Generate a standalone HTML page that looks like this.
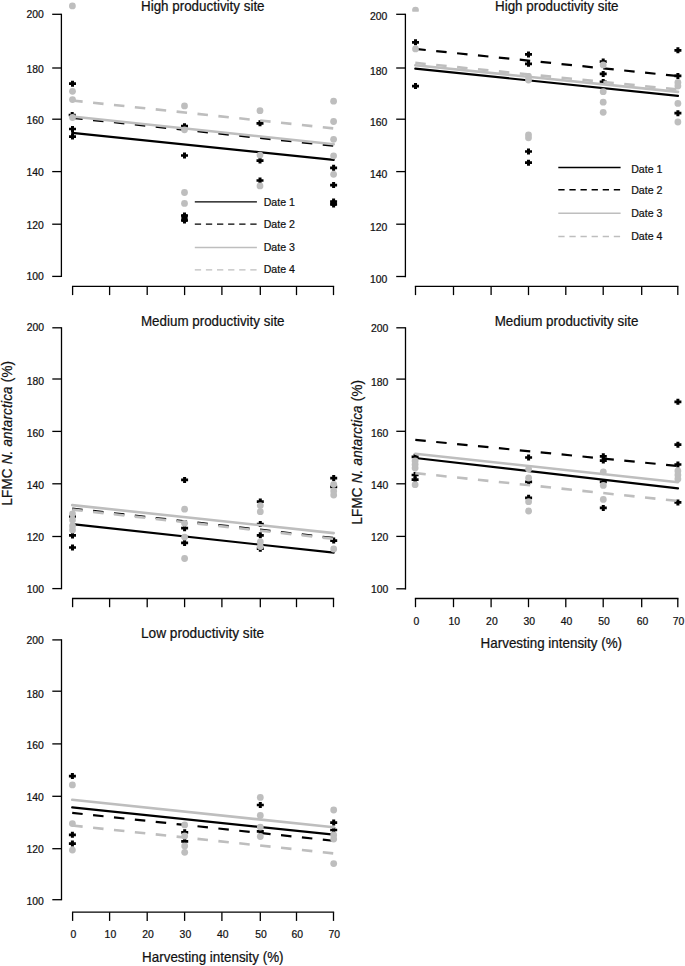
<!DOCTYPE html>
<html><head><meta charset="utf-8"><title>LFMC chart</title>
<style>
html,body{margin:0;padding:0;background:#fff;}
body{width:685px;height:966px;overflow:hidden;}
svg{display:block;}
svg text{font-family:"Liberation Sans", sans-serif;fill:#111;stroke:#111;stroke-width:0.22px;}
</style></head>
<body>
<svg width="685" height="966" viewBox="0 0 685 966">
<text transform="translate(141.0,10.9) scale(1,1.1)" font-size="13.4">High productivity site</text>
<line x1="61.4" y1="14.3" x2="61.4" y2="276.4" stroke="#000" stroke-width="1.3" stroke-linecap="square"/>
<line x1="52.2" y1="14.30" x2="61.4" y2="14.30" stroke="#000" stroke-width="1.3"/>
<text x="43.9" y="18.15" font-size="10.4" text-anchor="end" >200</text>
<line x1="52.2" y1="68.00" x2="61.4" y2="68.00" stroke="#000" stroke-width="1.3"/>
<text x="43.9" y="72.95" font-size="10.4" text-anchor="end" >180</text>
<line x1="52.2" y1="119.20" x2="61.4" y2="119.20" stroke="#000" stroke-width="1.3"/>
<text x="43.9" y="123.90" font-size="10.4" text-anchor="end" >160</text>
<line x1="52.2" y1="171.60" x2="61.4" y2="171.60" stroke="#000" stroke-width="1.3"/>
<text x="43.9" y="176.20" font-size="10.4" text-anchor="end" >140</text>
<line x1="52.2" y1="224.20" x2="61.4" y2="224.20" stroke="#000" stroke-width="1.3"/>
<text x="43.9" y="228.50" font-size="10.4" text-anchor="end" >120</text>
<line x1="52.2" y1="276.40" x2="61.4" y2="276.40" stroke="#000" stroke-width="1.3"/>
<text x="43.9" y="280.10" font-size="10.4" text-anchor="end" >100</text>
<line x1="72.6" y1="286.4" x2="333.5" y2="286.4" stroke="#000" stroke-width="1.3" stroke-linecap="square"/>
<line x1="72.60" y1="286.4" x2="72.60" y2="295.09999999999997" stroke="#000" stroke-width="1.3"/>
<line x1="109.60" y1="286.4" x2="109.60" y2="295.09999999999997" stroke="#000" stroke-width="1.3"/>
<line x1="147.20" y1="286.4" x2="147.20" y2="295.09999999999997" stroke="#000" stroke-width="1.3"/>
<line x1="184.60" y1="286.4" x2="184.60" y2="295.09999999999997" stroke="#000" stroke-width="1.3"/>
<line x1="221.90" y1="286.4" x2="221.90" y2="295.09999999999997" stroke="#000" stroke-width="1.3"/>
<line x1="260.30" y1="286.4" x2="260.30" y2="295.09999999999997" stroke="#000" stroke-width="1.3"/>
<line x1="296.50" y1="286.4" x2="296.50" y2="295.09999999999997" stroke="#000" stroke-width="1.3"/>
<line x1="333.50" y1="286.4" x2="333.50" y2="295.09999999999997" stroke="#000" stroke-width="1.3"/>
<path d="M69.00 82.35h7v2.7h-7zM71.00 80.70h3v6h-3z"/>
<path d="M68.70 113.65h7v2.7h-7zM70.70 112.00h3v6h-3z"/>
<path d="M69.00 127.65h7v2.7h-7zM71.00 126.00h3v6h-3z"/>
<path d="M69.00 135.25h7v2.7h-7zM71.00 133.60h3v6h-3z"/>
<path d="M181.00 124.85h7v2.7h-7zM183.00 123.20h3v6h-3z"/>
<path d="M181.00 154.15h7v2.7h-7zM183.00 152.50h3v6h-3z"/>
<path d="M181.00 214.15h7v2.7h-7zM183.00 212.50h3v6h-3z"/>
<path d="M181.00 219.15h7v2.7h-7zM183.00 217.50h3v6h-3z"/>
<path d="M256.50 121.95h7v2.7h-7zM258.50 120.30h3v6h-3z"/>
<path d="M256.50 159.25h7v2.7h-7zM258.50 157.60h3v6h-3z"/>
<path d="M256.50 179.15h7v2.7h-7zM258.50 177.50h3v6h-3z"/>
<path d="M330.10 166.45h7v2.7h-7zM332.10 164.80h3v6h-3z"/>
<path d="M330.10 183.75h7v2.7h-7zM332.10 182.10h3v6h-3z"/>
<path d="M330.10 200.15h7v2.7h-7zM332.10 198.50h3v6h-3z"/>
<path d="M330.10 203.15h7v2.7h-7zM332.10 201.50h3v6h-3z"/>
<line x1="72.2" y1="132.9" x2="333.7" y2="159.9" stroke="#000" stroke-width="2.2" stroke-linecap="round"/>
<line x1="72.2" y1="117.8" x2="333.7" y2="145.8" stroke="#000" stroke-width="2.2" stroke-dasharray="10.5 10.5"/>
<line x1="72.2" y1="116.5" x2="333.7" y2="144.2" stroke="#bebebe" stroke-width="2.6" stroke-linecap="round"/>
<line x1="72.2" y1="100.5" x2="333.7" y2="128.4" stroke="#bebebe" stroke-width="2.6" stroke-dasharray="10.5 10.5"/>
<ellipse cx="184.5" cy="218" rx="3.2" ry="4.6"/><ellipse cx="333.6" cy="203.2" rx="3.3" ry="2.9"/>
<circle cx="72.4" cy="5.9" r="3.4" fill="#bebebe"/>
<circle cx="72.5" cy="91.3" r="3.4" fill="#bebebe"/>
<circle cx="72.5" cy="99.6" r="3.4" fill="#bebebe"/>
<circle cx="72.5" cy="117.5" r="3.4" fill="#bebebe"/>
<circle cx="184.5" cy="105.9" r="3.4" fill="#bebebe"/>
<circle cx="184.5" cy="129.8" r="3.4" fill="#bebebe"/>
<circle cx="184.5" cy="192.5" r="3.4" fill="#bebebe"/>
<circle cx="184.5" cy="203.4" r="3.4" fill="#bebebe"/>
<circle cx="260" cy="110.7" r="3.4" fill="#bebebe"/>
<circle cx="260" cy="155.1" r="3.4" fill="#bebebe"/>
<circle cx="260" cy="185.9" r="3.4" fill="#bebebe"/>
<circle cx="333.6" cy="101.2" r="3.4" fill="#bebebe"/>
<circle cx="333.6" cy="121.5" r="3.4" fill="#bebebe"/>
<circle cx="333.6" cy="139.3" r="3.4" fill="#bebebe"/>
<circle cx="333.6" cy="155.8" r="3.4" fill="#bebebe"/>
<circle cx="333.6" cy="174.3" r="3.4" fill="#bebebe"/>
<line x1="194.8" y1="201.9" x2="256.9" y2="201.9" stroke="#000" stroke-width="1.4"/>
<text x="263.7" y="206.40" font-size="10.6" text-anchor="start" >Date 1</text>
<line x1="194.8" y1="224.1" x2="256.9" y2="224.1" stroke="#000" stroke-width="1.4" stroke-dasharray="6.3 4.8"/>
<text x="263.7" y="227.95" font-size="10.6" text-anchor="start" >Date 2</text>
<line x1="194.8" y1="247.5" x2="256.9" y2="247.5" stroke="#bebebe" stroke-width="1.4"/>
<text x="263.7" y="250.95" font-size="10.6" text-anchor="start" >Date 3</text>
<line x1="194.8" y1="269.9" x2="256.9" y2="269.9" stroke="#bebebe" stroke-width="1.4" stroke-dasharray="6.3 4.8"/>
<text x="263.7" y="273.40" font-size="10.6" text-anchor="start" >Date 4</text>
<text transform="translate(495.0,11.1) scale(1,1.1)" font-size="13.4">High productivity site</text>
<line x1="405.4" y1="14.3" x2="405.4" y2="276.5" stroke="#000" stroke-width="1.3" stroke-linecap="square"/>
<line x1="396.2" y1="14.30" x2="405.4" y2="14.30" stroke="#000" stroke-width="1.3"/>
<text x="387.4" y="20.10" font-size="10.4" text-anchor="end" >200</text>
<line x1="396.2" y1="68.00" x2="405.4" y2="68.00" stroke="#000" stroke-width="1.3"/>
<text x="387.4" y="74.80" font-size="10.4" text-anchor="end" >180</text>
<line x1="396.2" y1="119.20" x2="405.4" y2="119.20" stroke="#000" stroke-width="1.3"/>
<text x="387.4" y="126.00" font-size="10.4" text-anchor="end" >160</text>
<line x1="396.2" y1="171.60" x2="405.4" y2="171.60" stroke="#000" stroke-width="1.3"/>
<text x="387.4" y="178.30" font-size="10.4" text-anchor="end" >140</text>
<line x1="396.2" y1="224.20" x2="405.4" y2="224.20" stroke="#000" stroke-width="1.3"/>
<text x="387.4" y="230.50" font-size="10.4" text-anchor="end" >120</text>
<line x1="396.2" y1="276.50" x2="405.4" y2="276.50" stroke="#000" stroke-width="1.3"/>
<text x="387.4" y="282.60" font-size="10.4" text-anchor="end" >100</text>
<line x1="415.5" y1="286.4" x2="677.8" y2="286.4" stroke="#000" stroke-width="1.3" stroke-linecap="square"/>
<line x1="415.50" y1="286.4" x2="415.50" y2="295.09999999999997" stroke="#000" stroke-width="1.3"/>
<line x1="453.50" y1="286.4" x2="453.50" y2="295.09999999999997" stroke="#000" stroke-width="1.3"/>
<line x1="491.10" y1="286.4" x2="491.10" y2="295.09999999999997" stroke="#000" stroke-width="1.3"/>
<line x1="528.50" y1="286.4" x2="528.50" y2="295.09999999999997" stroke="#000" stroke-width="1.3"/>
<line x1="565.80" y1="286.4" x2="565.80" y2="295.09999999999997" stroke="#000" stroke-width="1.3"/>
<line x1="603.20" y1="286.4" x2="603.20" y2="295.09999999999997" stroke="#000" stroke-width="1.3"/>
<line x1="641.70" y1="286.4" x2="641.70" y2="295.09999999999997" stroke="#000" stroke-width="1.3"/>
<line x1="677.80" y1="286.4" x2="677.80" y2="295.09999999999997" stroke="#000" stroke-width="1.3"/>
<path d="M412.00 40.95h7v2.7h-7zM414.00 39.30h3v6h-3z"/>
<path d="M412.00 84.75h7v2.7h-7zM414.00 83.10h3v6h-3z"/>
<path d="M525.00 53.05h7v2.7h-7zM527.00 51.40h3v6h-3z"/>
<path d="M525.00 62.45h7v2.7h-7zM527.00 60.80h3v6h-3z"/>
<path d="M525.00 150.15h7v2.7h-7zM527.00 148.50h3v6h-3z"/>
<path d="M525.00 161.35h7v2.7h-7zM527.00 159.70h3v6h-3z"/>
<path d="M599.70 60.25h7v2.7h-7zM601.70 58.60h3v6h-3z"/>
<path d="M599.70 72.55h7v2.7h-7zM601.70 70.90h3v6h-3z"/>
<path d="M599.70 80.55h7v2.7h-7zM601.70 78.90h3v6h-3z"/>
<path d="M674.40 48.95h7v2.7h-7zM676.40 47.30h3v6h-3z"/>
<path d="M674.40 74.55h7v2.7h-7zM676.40 72.90h3v6h-3z"/>
<path d="M674.40 111.85h7v2.7h-7zM676.40 110.20h3v6h-3z"/>
<line x1="415.3" y1="68.7" x2="678.0" y2="95.8" stroke="#000" stroke-width="2.2" stroke-linecap="round"/>
<line x1="415.3" y1="48.9" x2="678.0" y2="76.1" stroke="#000" stroke-width="2.2" stroke-dasharray="10.5 10.5"/>
<line x1="415.3" y1="65.3" x2="678.0" y2="91.9" stroke="#bebebe" stroke-width="2.6" stroke-linecap="round"/>
<line x1="415.3" y1="62.9" x2="678.0" y2="89.5" stroke="#bebebe" stroke-width="2.6" stroke-dasharray="10.5 10.5"/>
<clipPath id="cb"><rect x="400" y="0" width="40" height="11.8"/></clipPath>
<circle cx="415.5" cy="10.1" r="3.4" fill="#bebebe" clip-path="url(#cb)"/>
<circle cx="415.5" cy="48.9" r="3.4" fill="#bebebe"/>
<circle cx="528.5" cy="76.5" r="3.4" fill="#bebebe"/>
<circle cx="528.5" cy="80" r="3.4" fill="#bebebe"/>
<circle cx="528.5" cy="134.8" r="3.4" fill="#bebebe"/>
<circle cx="528.5" cy="137.8" r="3.4" fill="#bebebe"/>
<circle cx="603.2" cy="64.9" r="3.4" fill="#bebebe"/>
<circle cx="603.2" cy="91.7" r="3.4" fill="#bebebe"/>
<circle cx="603.2" cy="102.2" r="3.4" fill="#bebebe"/>
<circle cx="603.2" cy="112.3" r="3.4" fill="#bebebe"/>
<circle cx="677.9" cy="82.5" r="3.4" fill="#bebebe"/>
<circle cx="677.9" cy="86" r="3.4" fill="#bebebe"/>
<circle cx="677.9" cy="103.4" r="3.4" fill="#bebebe"/>
<circle cx="677.9" cy="122" r="3.4" fill="#bebebe"/>
<line x1="558.3" y1="167.5" x2="620.6" y2="167.5" stroke="#000" stroke-width="1.4"/>
<text x="631.2" y="172.80" font-size="10.6" text-anchor="start" >Date 1</text>
<line x1="558.3" y1="189.7" x2="620.6" y2="189.7" stroke="#000" stroke-width="1.4" stroke-dasharray="6.3 4.8"/>
<text x="631.2" y="194.20" font-size="10.6" text-anchor="start" >Date 2</text>
<line x1="558.3" y1="213.2" x2="620.6" y2="213.2" stroke="#bebebe" stroke-width="1.4"/>
<text x="631.2" y="216.90" font-size="10.6" text-anchor="start" >Date 3</text>
<line x1="558.3" y1="236.5" x2="620.6" y2="236.5" stroke="#bebebe" stroke-width="1.4" stroke-dasharray="6.3 4.8"/>
<text x="631.2" y="239.75" font-size="10.6" text-anchor="start" >Date 4</text>
<text transform="translate(140.9,325.6) scale(1,1.1)" font-size="13.4">Medium productivity site</text>
<line x1="61.5" y1="327.8" x2="61.5" y2="588.6" stroke="#000" stroke-width="1.3" stroke-linecap="square"/>
<line x1="52.3" y1="327.80" x2="61.5" y2="327.80" stroke="#000" stroke-width="1.3"/>
<text x="44.0" y="331.00" font-size="10.4" text-anchor="end" >200</text>
<line x1="52.3" y1="379.00" x2="61.5" y2="379.00" stroke="#000" stroke-width="1.3"/>
<text x="44.0" y="385.30" font-size="10.4" text-anchor="end" >180</text>
<line x1="52.3" y1="431.40" x2="61.5" y2="431.40" stroke="#000" stroke-width="1.3"/>
<text x="44.0" y="436.80" font-size="10.4" text-anchor="end" >160</text>
<line x1="52.3" y1="483.80" x2="61.5" y2="483.80" stroke="#000" stroke-width="1.3"/>
<text x="44.0" y="488.70" font-size="10.4" text-anchor="end" >140</text>
<line x1="52.3" y1="536.50" x2="61.5" y2="536.50" stroke="#000" stroke-width="1.3"/>
<text x="44.0" y="541.20" font-size="10.4" text-anchor="end" >120</text>
<line x1="52.3" y1="588.60" x2="61.5" y2="588.60" stroke="#000" stroke-width="1.3"/>
<text x="44.0" y="593.00" font-size="10.4" text-anchor="end" >100</text>
<line x1="72.6" y1="598.5" x2="333.5" y2="598.5" stroke="#000" stroke-width="1.3" stroke-linecap="square"/>
<line x1="72.60" y1="598.5" x2="72.60" y2="607.2" stroke="#000" stroke-width="1.3"/>
<line x1="109.60" y1="598.5" x2="109.60" y2="607.2" stroke="#000" stroke-width="1.3"/>
<line x1="147.20" y1="598.5" x2="147.20" y2="607.2" stroke="#000" stroke-width="1.3"/>
<line x1="184.60" y1="598.5" x2="184.60" y2="607.2" stroke="#000" stroke-width="1.3"/>
<line x1="221.90" y1="598.5" x2="221.90" y2="607.2" stroke="#000" stroke-width="1.3"/>
<line x1="260.30" y1="598.5" x2="260.30" y2="607.2" stroke="#000" stroke-width="1.3"/>
<line x1="296.50" y1="598.5" x2="296.50" y2="607.2" stroke="#000" stroke-width="1.3"/>
<line x1="333.50" y1="598.5" x2="333.50" y2="607.2" stroke="#000" stroke-width="1.3"/>
<path d="M69.00 515.05h7v2.7h-7zM71.00 513.40h3v6h-3z"/>
<path d="M69.00 534.05h7v2.7h-7zM71.00 532.40h3v6h-3z"/>
<path d="M69.00 546.15h7v2.7h-7zM71.00 544.50h3v6h-3z"/>
<path d="M181.10 478.55h7v2.7h-7zM183.10 476.90h3v6h-3z"/>
<path d="M181.10 526.85h7v2.7h-7zM183.10 525.20h3v6h-3z"/>
<path d="M181.10 541.55h7v2.7h-7zM183.10 539.90h3v6h-3z"/>
<path d="M256.80 500.25h7v2.7h-7zM258.80 498.60h3v6h-3z"/>
<path d="M256.80 522.65h7v2.7h-7zM258.80 521.00h3v6h-3z"/>
<path d="M256.80 533.95h7v2.7h-7zM258.80 532.30h3v6h-3z"/>
<path d="M256.80 547.35h7v2.7h-7zM258.80 545.70h3v6h-3z"/>
<path d="M330.20 476.75h7v2.7h-7zM332.20 475.10h3v6h-3z"/>
<path d="M330.20 485.45h7v2.7h-7zM332.20 483.80h3v6h-3z"/>
<path d="M330.20 539.25h7v2.7h-7zM332.20 537.60h3v6h-3z"/>
<line x1="72.2" y1="524.2" x2="333.7" y2="552.7" stroke="#000" stroke-width="2.2" stroke-linecap="round"/>
<line x1="72.2" y1="508.6" x2="333.7" y2="538.0" stroke="#000" stroke-width="2.2" stroke-dasharray="10.5 10.5"/>
<line x1="72.2" y1="505.1" x2="333.7" y2="533.1" stroke="#bebebe" stroke-width="2.6" stroke-linecap="round"/>
<line x1="72.2" y1="509.6" x2="333.7" y2="538.9" stroke="#bebebe" stroke-width="2.6" stroke-dasharray="10.5 10.5"/>
<circle cx="72.5" cy="514" r="3.4" fill="#bebebe"/>
<circle cx="72.5" cy="520" r="3.4" fill="#bebebe"/>
<circle cx="72.5" cy="526" r="3.4" fill="#bebebe"/>
<circle cx="72.5" cy="530" r="3.4" fill="#bebebe"/>
<circle cx="184.6" cy="509.2" r="3.4" fill="#bebebe"/>
<circle cx="184.6" cy="523.3" r="3.4" fill="#bebebe"/>
<circle cx="184.6" cy="537.1" r="3.4" fill="#bebebe"/>
<circle cx="184.6" cy="558.5" r="3.4" fill="#bebebe"/>
<circle cx="260.3" cy="505.6" r="3.4" fill="#bebebe"/>
<circle cx="260.3" cy="511.7" r="3.4" fill="#bebebe"/>
<circle cx="260.3" cy="542" r="3.4" fill="#bebebe"/>
<circle cx="260.3" cy="546.5" r="3.4" fill="#bebebe"/>
<circle cx="333.7" cy="484.3" r="3.4" fill="#bebebe"/>
<circle cx="333.7" cy="491" r="3.4" fill="#bebebe"/>
<circle cx="333.7" cy="495" r="3.4" fill="#bebebe"/>
<circle cx="333.7" cy="549" r="3.4" fill="#bebebe"/>
<text transform="translate(11.8,505.6) rotate(-90) scale(1,1.1)" font-size="13.4" textLength="144.6" lengthAdjust="spacing">LFMC <tspan font-style="italic">N. antarctica</tspan> (%)</text>
<text transform="translate(494.7,326.0) scale(1,1.1)" font-size="13.4">Medium productivity site</text>
<line x1="405.5" y1="327.8" x2="405.5" y2="588.8" stroke="#000" stroke-width="1.3" stroke-linecap="square"/>
<line x1="396.3" y1="327.80" x2="405.5" y2="327.80" stroke="#000" stroke-width="1.3"/>
<text x="388.4" y="331.50" font-size="10.4" text-anchor="end" >200</text>
<line x1="396.3" y1="379.10" x2="405.5" y2="379.10" stroke="#000" stroke-width="1.3"/>
<text x="388.4" y="385.90" font-size="10.4" text-anchor="end" >180</text>
<line x1="396.3" y1="431.30" x2="405.5" y2="431.30" stroke="#000" stroke-width="1.3"/>
<text x="388.4" y="436.80" font-size="10.4" text-anchor="end" >160</text>
<line x1="396.3" y1="483.80" x2="405.5" y2="483.80" stroke="#000" stroke-width="1.3"/>
<text x="388.4" y="488.60" font-size="10.4" text-anchor="end" >140</text>
<line x1="396.3" y1="536.40" x2="405.5" y2="536.40" stroke="#000" stroke-width="1.3"/>
<text x="388.4" y="541.20" font-size="10.4" text-anchor="end" >120</text>
<line x1="396.3" y1="588.80" x2="405.5" y2="588.80" stroke="#000" stroke-width="1.3"/>
<text x="388.4" y="593.30" font-size="10.4" text-anchor="end" >100</text>
<line x1="415.5" y1="598.5" x2="677.8" y2="598.5" stroke="#000" stroke-width="1.3" stroke-linecap="square"/>
<line x1="415.50" y1="598.5" x2="415.50" y2="607.2" stroke="#000" stroke-width="1.3"/>
<text x="416.30" y="625.00" font-size="10.4" text-anchor="middle" >0</text>
<line x1="453.50" y1="598.5" x2="453.50" y2="607.2" stroke="#000" stroke-width="1.3"/>
<text x="454.30" y="625.00" font-size="10.4" text-anchor="middle" >10</text>
<line x1="491.10" y1="598.5" x2="491.10" y2="607.2" stroke="#000" stroke-width="1.3"/>
<text x="491.90" y="625.00" font-size="10.4" text-anchor="middle" >20</text>
<line x1="528.50" y1="598.5" x2="528.50" y2="607.2" stroke="#000" stroke-width="1.3"/>
<text x="529.30" y="625.00" font-size="10.4" text-anchor="middle" >30</text>
<line x1="565.80" y1="598.5" x2="565.80" y2="607.2" stroke="#000" stroke-width="1.3"/>
<text x="566.60" y="625.00" font-size="10.4" text-anchor="middle" >40</text>
<line x1="603.20" y1="598.5" x2="603.20" y2="607.2" stroke="#000" stroke-width="1.3"/>
<text x="604.00" y="625.00" font-size="10.4" text-anchor="middle" >50</text>
<line x1="641.70" y1="598.5" x2="641.70" y2="607.2" stroke="#000" stroke-width="1.3"/>
<text x="642.50" y="625.00" font-size="10.4" text-anchor="middle" >60</text>
<line x1="677.80" y1="598.5" x2="677.80" y2="607.2" stroke="#000" stroke-width="1.3"/>
<text x="678.60" y="625.00" font-size="10.4" text-anchor="middle" >70</text>
<path d="M411.60 455.45h7v2.7h-7zM413.60 453.80h3v6h-3z"/>
<path d="M411.60 473.65h7v2.7h-7zM413.60 472.00h3v6h-3z"/>
<path d="M411.60 478.35h7v2.7h-7zM413.60 476.70h3v6h-3z"/>
<path d="M525.10 456.15h7v2.7h-7zM527.10 454.50h3v6h-3z"/>
<path d="M525.10 480.55h7v2.7h-7zM527.10 478.90h3v6h-3z"/>
<path d="M525.10 496.45h7v2.7h-7zM527.10 494.80h3v6h-3z"/>
<path d="M599.80 454.95h7v2.7h-7zM601.80 453.30h3v6h-3z"/>
<path d="M599.80 459.25h7v2.7h-7zM601.80 457.60h3v6h-3z"/>
<path d="M599.80 480.55h7v2.7h-7zM601.80 478.90h3v6h-3z"/>
<path d="M599.80 506.55h7v2.7h-7zM601.80 504.90h3v6h-3z"/>
<path d="M674.40 400.45h7v2.7h-7zM676.40 398.80h3v6h-3z"/>
<path d="M674.40 443.35h7v2.7h-7zM676.40 441.70h3v6h-3z"/>
<path d="M674.40 463.15h7v2.7h-7zM676.40 461.50h3v6h-3z"/>
<path d="M674.40 501.05h7v2.7h-7zM676.40 499.40h3v6h-3z"/>
<line x1="415.3" y1="458.0" x2="678.0" y2="488.3" stroke="#000" stroke-width="2.2" stroke-linecap="round"/>
<line x1="415.3" y1="439.9" x2="678.0" y2="466.0" stroke="#000" stroke-width="2.2" stroke-dasharray="10.5 10.5"/>
<line x1="415.3" y1="453.7" x2="678.0" y2="482.2" stroke="#bebebe" stroke-width="2.6" stroke-linecap="round"/>
<line x1="415.3" y1="473.1" x2="678.0" y2="501.0" stroke="#bebebe" stroke-width="2.6" stroke-dasharray="10.5 10.5"/>
<circle cx="415.1" cy="461" r="3.4" fill="#bebebe"/>
<circle cx="415.1" cy="464.5" r="3.4" fill="#bebebe"/>
<circle cx="415.1" cy="468" r="3.4" fill="#bebebe"/>
<circle cx="415.1" cy="484.7" r="3.4" fill="#bebebe"/>
<circle cx="528.6" cy="469.1" r="3.4" fill="#bebebe"/>
<circle cx="528.6" cy="478" r="3.4" fill="#bebebe"/>
<circle cx="528.6" cy="501.7" r="3.4" fill="#bebebe"/>
<circle cx="528.6" cy="511" r="3.4" fill="#bebebe"/>
<circle cx="603.3" cy="471.8" r="3.4" fill="#bebebe"/>
<circle cx="603.3" cy="485.4" r="3.4" fill="#bebebe"/>
<circle cx="603.3" cy="499.4" r="3.4" fill="#bebebe"/>
<circle cx="677.9" cy="471" r="3.4" fill="#bebebe"/>
<circle cx="677.9" cy="475" r="3.4" fill="#bebebe"/>
<circle cx="677.9" cy="479" r="3.4" fill="#bebebe"/>
<text transform="translate(362.4,524.6) rotate(-90) scale(1,1.1)" font-size="13.4" textLength="144.6" lengthAdjust="spacing">LFMC <tspan font-style="italic">N. antarctica</tspan> (%)</text>
<text transform="translate(480.6,647.6) scale(1,1.1)" font-size="13.4">Harvesting intensity (%)</text>
<text transform="translate(140.9,637.6) scale(1,1.08)" font-size="13.7">Low productivity site</text>
<line x1="61.5" y1="639.9" x2="61.5" y2="899.7" stroke="#000" stroke-width="1.3" stroke-linecap="square"/>
<line x1="52.3" y1="639.90" x2="61.5" y2="639.90" stroke="#000" stroke-width="1.3"/>
<text x="43.9" y="643.60" font-size="10.4" text-anchor="end" >200</text>
<line x1="52.3" y1="691.20" x2="61.5" y2="691.20" stroke="#000" stroke-width="1.3"/>
<text x="43.9" y="697.50" font-size="10.4" text-anchor="end" >180</text>
<line x1="52.3" y1="743.90" x2="61.5" y2="743.90" stroke="#000" stroke-width="1.3"/>
<text x="43.9" y="748.90" font-size="10.4" text-anchor="end" >160</text>
<line x1="52.3" y1="796.30" x2="61.5" y2="796.30" stroke="#000" stroke-width="1.3"/>
<text x="43.9" y="801.30" font-size="10.4" text-anchor="end" >140</text>
<line x1="52.3" y1="848.70" x2="61.5" y2="848.70" stroke="#000" stroke-width="1.3"/>
<text x="43.9" y="853.40" font-size="10.4" text-anchor="end" >120</text>
<line x1="52.3" y1="899.70" x2="61.5" y2="899.70" stroke="#000" stroke-width="1.3"/>
<text x="43.9" y="905.40" font-size="10.4" text-anchor="end" >100</text>
<line x1="72.6" y1="912.2" x2="333.5" y2="912.2" stroke="#000" stroke-width="1.3" stroke-linecap="square"/>
<line x1="72.60" y1="912.2" x2="72.60" y2="920.9000000000001" stroke="#000" stroke-width="1.3"/>
<text x="73.40" y="938.40" font-size="10.4" text-anchor="middle" >0</text>
<line x1="109.60" y1="912.2" x2="109.60" y2="920.9000000000001" stroke="#000" stroke-width="1.3"/>
<text x="110.40" y="938.40" font-size="10.4" text-anchor="middle" >10</text>
<line x1="147.20" y1="912.2" x2="147.20" y2="920.9000000000001" stroke="#000" stroke-width="1.3"/>
<text x="148.00" y="938.40" font-size="10.4" text-anchor="middle" >20</text>
<line x1="184.60" y1="912.2" x2="184.60" y2="920.9000000000001" stroke="#000" stroke-width="1.3"/>
<text x="185.40" y="938.40" font-size="10.4" text-anchor="middle" >30</text>
<line x1="221.90" y1="912.2" x2="221.90" y2="920.9000000000001" stroke="#000" stroke-width="1.3"/>
<text x="222.70" y="938.40" font-size="10.4" text-anchor="middle" >40</text>
<line x1="260.30" y1="912.2" x2="260.30" y2="920.9000000000001" stroke="#000" stroke-width="1.3"/>
<text x="261.10" y="938.40" font-size="10.4" text-anchor="middle" >50</text>
<line x1="296.50" y1="912.2" x2="296.50" y2="920.9000000000001" stroke="#000" stroke-width="1.3"/>
<text x="297.30" y="938.40" font-size="10.4" text-anchor="middle" >60</text>
<line x1="333.50" y1="912.2" x2="333.50" y2="920.9000000000001" stroke="#000" stroke-width="1.3"/>
<text x="334.30" y="938.40" font-size="10.4" text-anchor="middle" >70</text>
<path d="M68.90 774.75h7v2.7h-7zM70.90 773.10h3v6h-3z"/>
<path d="M68.90 833.45h7v2.7h-7zM70.90 831.80h3v6h-3z"/>
<path d="M68.90 842.25h7v2.7h-7zM70.90 840.60h3v6h-3z"/>
<path d="M181.20 830.95h7v2.7h-7zM183.20 829.30h3v6h-3z"/>
<path d="M181.20 840.05h7v2.7h-7zM183.20 838.40h3v6h-3z"/>
<path d="M256.80 803.65h7v2.7h-7zM258.80 802.00h3v6h-3z"/>
<path d="M256.80 830.05h7v2.7h-7zM258.80 828.40h3v6h-3z"/>
<path d="M330.20 821.25h7v2.7h-7zM332.20 819.60h3v6h-3z"/>
<path d="M330.20 828.65h7v2.7h-7zM332.20 827.00h3v6h-3z"/>
<line x1="72.2" y1="807.3" x2="333.7" y2="834.7" stroke="#000" stroke-width="2.2" stroke-linecap="round"/>
<line x1="72.2" y1="812.9" x2="333.7" y2="840.8" stroke="#000" stroke-width="2.2" stroke-dasharray="10.5 10.5"/>
<line x1="72.2" y1="799.8" x2="333.7" y2="827.3" stroke="#bebebe" stroke-width="2.6" stroke-linecap="round"/>
<line x1="72.2" y1="825.5" x2="333.7" y2="853.4" stroke="#bebebe" stroke-width="2.6" stroke-dasharray="10.5 10.5"/>
<circle cx="72.4" cy="784.9" r="3.4" fill="#bebebe"/>
<circle cx="72.4" cy="823.6" r="3.4" fill="#bebebe"/>
<circle cx="72.4" cy="850.1" r="3.4" fill="#bebebe"/>
<circle cx="184.7" cy="824.9" r="3.4" fill="#bebebe"/>
<circle cx="184.7" cy="836" r="3.4" fill="#bebebe"/>
<circle cx="184.7" cy="846" r="3.4" fill="#bebebe"/>
<circle cx="184.7" cy="852.3" r="3.4" fill="#bebebe"/>
<circle cx="260.3" cy="797.4" r="3.4" fill="#bebebe"/>
<circle cx="260.3" cy="815.5" r="3.4" fill="#bebebe"/>
<circle cx="260.3" cy="827.1" r="3.4" fill="#bebebe"/>
<circle cx="260.3" cy="836.5" r="3.4" fill="#bebebe"/>
<circle cx="333.7" cy="810" r="3.4" fill="#bebebe"/>
<circle cx="333.7" cy="835" r="3.4" fill="#bebebe"/>
<circle cx="333.7" cy="839" r="3.4" fill="#bebebe"/>
<circle cx="333.7" cy="863.6" r="3.4" fill="#bebebe"/>
<text transform="translate(142.1,961.6) scale(1,1.1)" font-size="13.4">Harvesting intensity (%)</text>
</svg>
</body></html>
